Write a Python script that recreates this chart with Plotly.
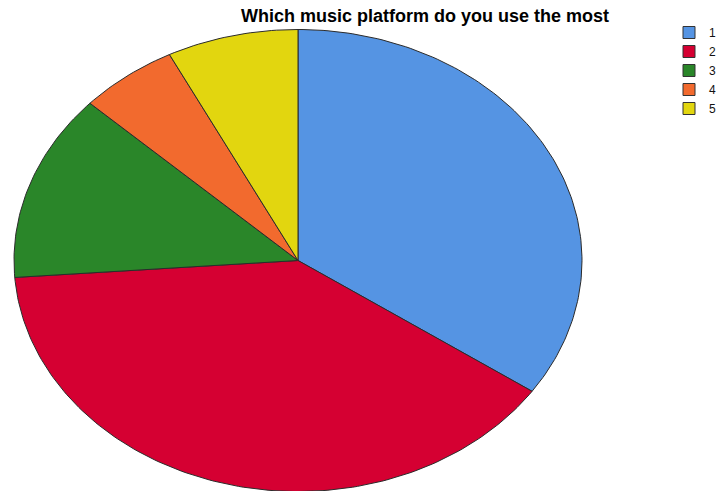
import numpy as np
import plotly.graph_objects as go

# Survey answers: which music platform respondents use the most
categories = ["1", "2", "3", "4", "5"]
counts = [37, 42, 14, 6, 8]
colors = ["#5594E3", "#D50032", "#2A8629", "#F26A2E", "#E2D60F"]
title_text = "Which music platform do you use the most"

fig = go.Figure()

# Wedges start at 12 o'clock and run clockwise; the unequal axis scales
# turn the unit circle into the wide ellipse.
fractions = np.array(counts, dtype=float) / sum(counts)
edges = np.concatenate([[0.0], np.cumsum(fractions)]) * 2 * np.pi
for name, frac, color, a0, a1 in zip(categories, fractions, colors, edges[:-1], edges[1:]):
    n = max(int(frac * 360), 4)
    theta = np.linspace(a0, a1, n)
    xs = np.concatenate([[0.0], np.sin(theta), [0.0]])
    ys = np.concatenate([[0.0], np.cos(theta), [0.0]])
    fig.add_trace(go.Scatter(
        x=xs, y=ys, mode="lines", fill="toself", fillcolor=color,
        line=dict(color="#2b2b2b", width=1), showlegend=False,
        hoverinfo="text", text=f"{name}: {frac * 100:.1f}%",
    ))

# Square legend swatches
for name, color in zip(categories, colors):
    fig.add_trace(go.Bar(
        x=[None], y=[None], name=name,
        marker=dict(color=color, line=dict(color="#333333", width=1)),
    ))

fig.update_layout(
    width=717, height=491,
    margin=dict(l=0, r=0, t=0, b=0, autoexpand=False),
    paper_bgcolor="white", plot_bgcolor="white",
    title=dict(
        text=f"<b>{title_text}</b>",
        x=425 / 717, xanchor="center", y=1 - 16 / 491, yanchor="middle",
        font=dict(family="Liberation Sans, Arial, sans-serif", size=18, color="#000000"),
    ),
    xaxis=dict(range=[-1 - 14 / 284, 1 + 135 / 284], visible=False, fixedrange=True),
    yaxis=dict(range=[-(491 - 260.5) / 231, 1 + 29.5 / 231], visible=False, fixedrange=True),
    legend=dict(
        x=669 / 717, xanchor="left", y=1 - 18 / 491, yanchor="top",
        bgcolor="rgba(0,0,0,0)", tracegroupgap=0,
        font=dict(family="Liberation Sans, Arial, sans-serif", size=12, color="#111111"),
    ),
    showlegend=True,
)

fig.write_html("out.html")
